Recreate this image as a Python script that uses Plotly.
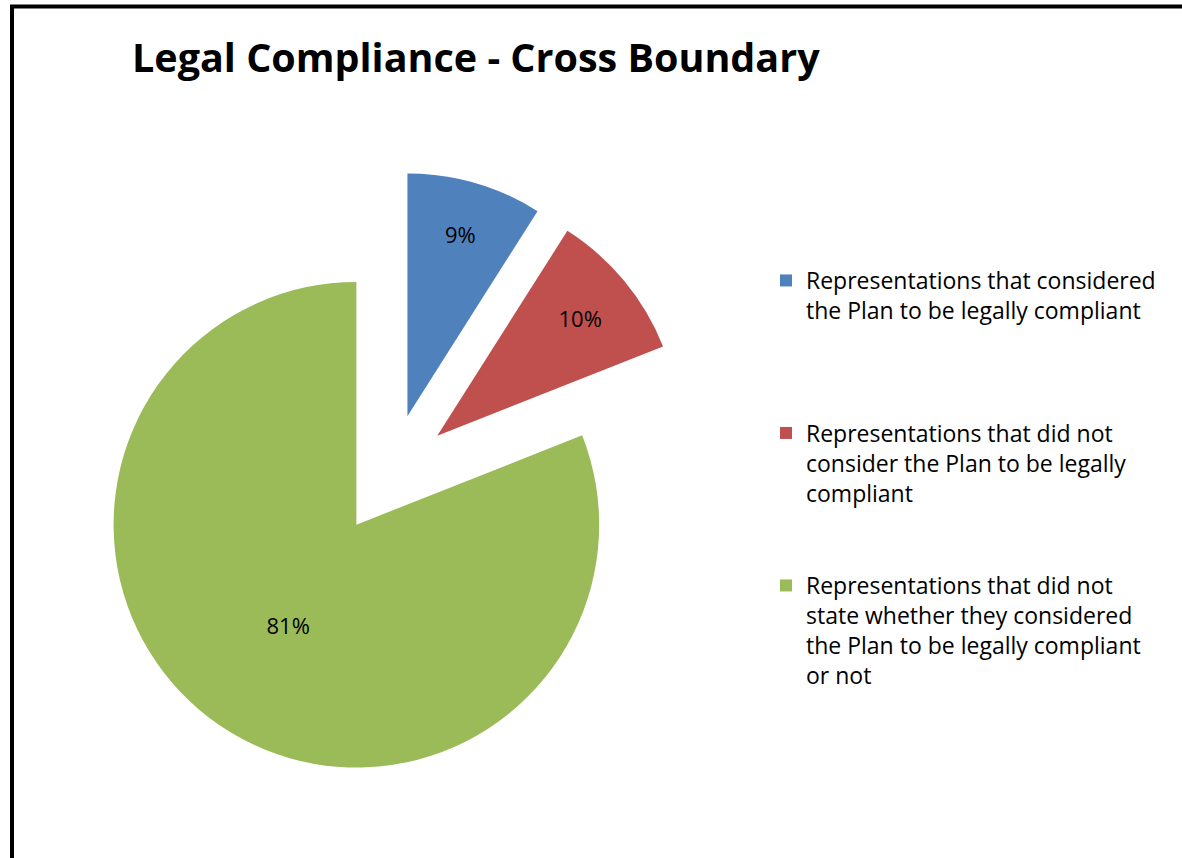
import plotly.graph_objects as go

labels = [
    "Representations that considered<br>the Plan to be legally compliant<br> <br> <br> ",
    "Representations that did not<br>consider the Plan to be legally<br>compliant<br> <br> ",
    "Representations that did not<br>state whether they considered<br>the Plan to be legally compliant<br>or not",
]
values = [9, 10, 81]
colors = ["#4F81BD", "#C0504D", "#9BBB59"]
pulls = [0.25, 0.25, 0.25]
title_text = "Legal Compliance - Cross Boundary"

W, H = 1182, 858

fig = go.Figure(go.Pie(
    labels=labels,
    values=values,
    marker=dict(colors=colors),
    pull=pulls,
    sort=False,
    direction="clockwise",
    rotation=0,
    texttemplate="%{percent:.0%}",
    textposition="inside",
    insidetextorientation="horizontal",
    textfont=dict(family="Open Sans", size=22, color="#000000"),
    domain=dict(x=[87 / W, 694 / W], y=[1 - 778 / H, 1 - 171 / H]),
    hoverinfo="percent",
))

fig.update_layout(
    width=W, height=H,
    margin=dict(l=0, r=0, t=0, b=0),
    paper_bgcolor="white",
    title=dict(text="<b>" + title_text + "</b>", x=132 / W, xanchor="left",
               y=1 - 58 / H, yanchor="middle",
               font=dict(family="Open Sans", size=39.5, color="#000000")),
    legend=dict(x=766 / W, y=1 - 259 / H, xanchor="left", yanchor="top",
                font=dict(family="Open Sans", size=23, color="#000000"),
                valign="top", bgcolor="rgba(0,0,0,0)"),
    showlegend=True,
    shapes=[dict(type="rect", xref="paper", yref="paper",
                 x0=12 / W, x1=1.02, y0=-0.02, y1=1 - 6.5 / H,
                 line=dict(color="#000000", width=4))],
)

fig.write_html("out.html", config={"displayModeBar": False},
               post_script="document.body.style.margin='0';")
